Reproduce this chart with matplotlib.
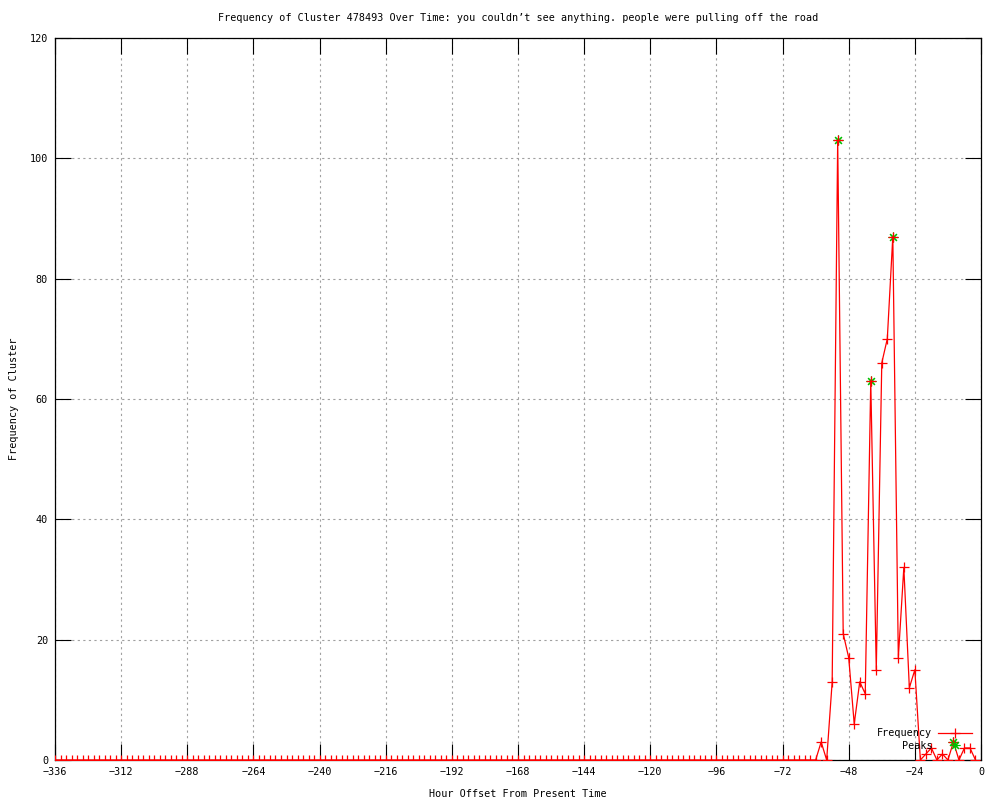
import matplotlib
matplotlib.use("Agg")
import matplotlib.pyplot as plt

title = "Frequency of Cluster 478493 Over Time: you couldn\u2019t see anything. people were pulling off the road"
xlabel = "Hour Offset From Present Time"
ylabel = "Frequency of Cluster"

# hour offsets: every 2 hours from -336 to -2
hours = list(range(-336, 0, 2))
frequency = [
    0, 0, 0, 0, 0, 0, 0, 0, 0, 0, 0, 0,   # -336 .. -314
    0, 0, 0, 0, 0, 0, 0, 0, 0, 0, 0, 0,   # -312 .. -290
    0, 0, 0, 0, 0, 0, 0, 0, 0, 0, 0, 0,   # -288 .. -266
    0, 0, 0, 0, 0, 0, 0, 0, 0, 0, 0, 0,   # -264 .. -242
    0, 0, 0, 0, 0, 0, 0, 0, 0, 0, 0, 0,   # -240 .. -218
    0, 0, 0, 0, 0, 0, 0, 0, 0, 0, 0, 0,   # -216 .. -194
    0, 0, 0, 0, 0, 0, 0, 0, 0, 0, 0, 0,   # -192 .. -170
    0, 0, 0, 0, 0, 0, 0, 0, 0, 0, 0, 0,   # -168 .. -146
    0, 0, 0, 0, 0, 0, 0, 0, 0, 0, 0, 0,   # -144 .. -122
    0, 0, 0, 0, 0, 0, 0, 0, 0, 0, 0, 0,   # -120 .. -98
    0, 0, 0, 0, 0, 0, 0, 0, 0, 0, 0, 0,   # -96 .. -74
    0, 0, 0, 0, 0, 0, 0,                  # -72 .. -60
    3, 0, 13, 103, 21, 17, 6, 13, 11, 63, 15, 66, 70, 87,   # -58 .. -32
    17, 32, 12, 15, 0, 1, 2, 0, 1, 0, 3, 0, 2, 2, 0,        # -30 .. -2
]
peak_hours = [-52, -40, -32, -10]
peak_values = [103, 63, 87, 3]

xticks = list(range(-336, 1, 24))
yticks = list(range(0, 121, 20))

plt.rcParams['font.family'] = ['DejaVu Sans Mono']
fs = 7.3

fig = plt.figure(figsize=(10, 8), dpi=100)
ax = fig.add_axes([0.055, 0.05, 0.926, 0.9025])

ax.plot(peak_hours, peak_values, linestyle='none', marker=(8, 2, 0),
        markersize=7, color='#00c000', markeredgewidth=0.8, label='Peaks', zorder=2)
ax.plot(hours, frequency, color='red', linewidth=0.9, marker='+',
        markersize=7, markeredgewidth=0.9, label='Frequency', zorder=3)

ax.set_xlim(-336, 0)
ax.set_ylim(0, 120)
ax.set_xticks(xticks)
ax.set_yticks(yticks)
ax.tick_params(direction='in', length=11.5, width=0.8, top=True, right=True,
               labelsize=fs, pad=5)
for s in ax.spines.values():
    s.set_linewidth(0.9)
ax.grid(True, color='#a0a0a0', linestyle=(0, (2, 3)), linewidth=0.8)
ax.set_axisbelow(True)

ax.set_title(title, fontsize=fs, pad=12)
ax.set_xlabel(xlabel, fontsize=fs, labelpad=9)
ax.set_ylabel(ylabel, fontsize=fs, labelpad=8)

h, l = ax.get_legend_handles_labels()
ax.legend([h[1], h[0]], [l[1], l[0]], loc='lower right', frameon=False,
          markerfirst=False, fontsize=fs, handlelength=3.3, labelspacing=0.25,
          borderaxespad=0.5, handletextpad=0.6)

fig.savefig('out.png', dpi=100)
